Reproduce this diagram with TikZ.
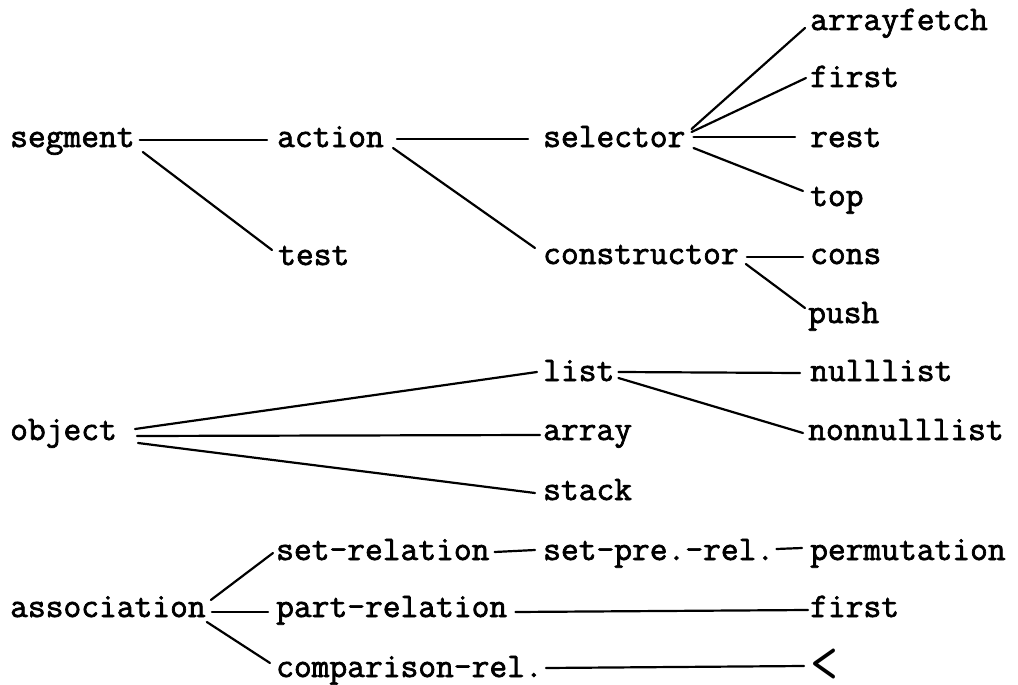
\documentclass[tikz,border=0pt]{standalone}
\usepackage{fontspec}
\newfontfamily\tw{Latin Modern Mono}[FakeBold=2]
\newfontfamily\twthin{Latin Modern Mono}
\usetikzlibrary{calc}
\begin{document}
\begin{tikzpicture}[x=1pt,y=-1pt,
  lbl/.style={anchor=base west,inner sep=0pt,font={\tw\fontsize{34.5}{40}\selectfont}},
  conn/.style={line width=2.2pt,line cap=round}]
\useasboundingbox (0,0) rectangle (1018,685);
\fill[white] (0,0) rectangle (1018,685);
% nodes
\node[lbl] (segment) at (10,147) {segment};
\node[lbl] (action) at (277,147) {action};
\node[lbl] (selector) at (543,147) {selector};
\node[lbl] (test) at (278,265) {test};
\node[lbl] (constructor) at (543,264) {constructor};
\node[lbl] (arrayfetch) at (810,30) {arrayfetch};
\node[lbl] (firsta) at (810,87) {first};
\node[lbl] (rest) at (810,147) {rest};
\node[lbl] (top) at (810,206) {top};
\node[lbl] (cons) at (810,264) {cons};
\node[lbl] (push) at (808,323) {push};
\node[lbl] (list) at (543,381) {list};
\node[lbl] (nulllist) at (810,381) {nulllist};
\node[lbl] (object) at (10,440) {object};
\node[lbl] (array) at (543,440) {array};
\node[lbl] (nonnulllist) at (808,440) {nonnulllist};
\node[lbl] (stack) at (543,500) {stack};
\node[lbl] (setrel) at (276,560) {set-relation};
\node[lbl] (setpre) at (543,560) {set-pre.-rel.};
\node[lbl] (perm) at (810,560) {permutation};
\node[lbl] (assoc) at (10,617) {association};
\node[lbl] (partrel) at (276,617) {part-relation};
\node[lbl] (firstb) at (810,617) {first};
\node[anchor=west,inner sep=0pt,font={\twthin\fontsize{34}{40}\selectfont}] (lt) at (810,666) {\scalebox{1.6}[1.78]{<}};
\node[lbl] (comprel) at (276,677) {comparison-rel.};
% connectors
\draw[conn] ($(segment.base east)+(5,-7)$) -- ($(action.base west)+(-10,-7)$);
\draw[conn] ($(segment.base east)+(8,5)$) -- ($(test.base west)+(-6,-15)$);
\draw[conn] ($(action.base east)+(13,-8)$) -- ($(selector.base west)+(-15,-8)$);
\draw[conn] ($(action.base east)+(9,1)$) -- ($(constructor.base west)+(-8,-16)$);
\draw[conn] ($(selector.base east)+(6,-18)$) -- ($(arrayfetch.base west)+(-5,-2)$);
\draw[conn] ($(selector.base east)+(6,-15)$) -- ($(firsta.base west)+(-4,-9)$);
\draw[conn] ($(selector.base east)+(8,-10)$) -- ($(rest.base west)+(-15,-10)$);
\draw[conn] ($(selector.base east)+(8,1)$) -- ($(top.base west)+(-7,-15)$);
\draw[conn] ($(constructor.base east)+(8,-7)$) -- ($(cons.base west)+(-7,-7)$);
\draw[conn] ($(constructor.base east)+(7,0)$) -- ($(push.base west)+(-3,-15)$);
\draw[conn] ($(object.base east)+(18,-11)$) -- ($(list.base west)+(-6,-9)$);
\draw[conn] ($(object.base east)+(20,-4)$) -- ($(array.base west)+(-3,-5)$);
\draw[conn] ($(object.base east)+(21,3)$) -- ($(stack.base west)+(-8,-7)$);
\draw[conn] ($(list.base east)+(4,-9)$) -- ($(nulllist.base west)+(-10,-8)$);
\draw[conn] ($(list.base east)+(4,-3)$) -- ($(nonnulllist.base west)+(-5,-7)$);
\draw[conn] ($(assoc.base east)+(5,-17)$) -- ($(setrel.base west)+(-3,-7)$);
\draw[conn] ($(assoc.base east)+(6,-5)$) -- ($(partrel.base west)+(-8,-5)$);
\draw[conn] ($(assoc.base east)+(1,5)$) -- ($(comprel.base west)+(-6,-14)$);
\draw[conn] ($(setrel.base east)+(5,-8)$) -- ($(setpre.base west)+(-8,-10)$);
\draw[conn] ($(setpre.base east)+(2,-11)$) -- ($(perm.base west)+(-8,-12)$);
\draw[conn] ($(partrel.base east)+(8,-5)$) -- ($(firstb.base west)+(-2,-7)$);
\draw[conn] ($(comprel.base east)+(3,-9)$) -- ($(lt.west)+(-6,0)$);
\end{tikzpicture}
\end{document}
